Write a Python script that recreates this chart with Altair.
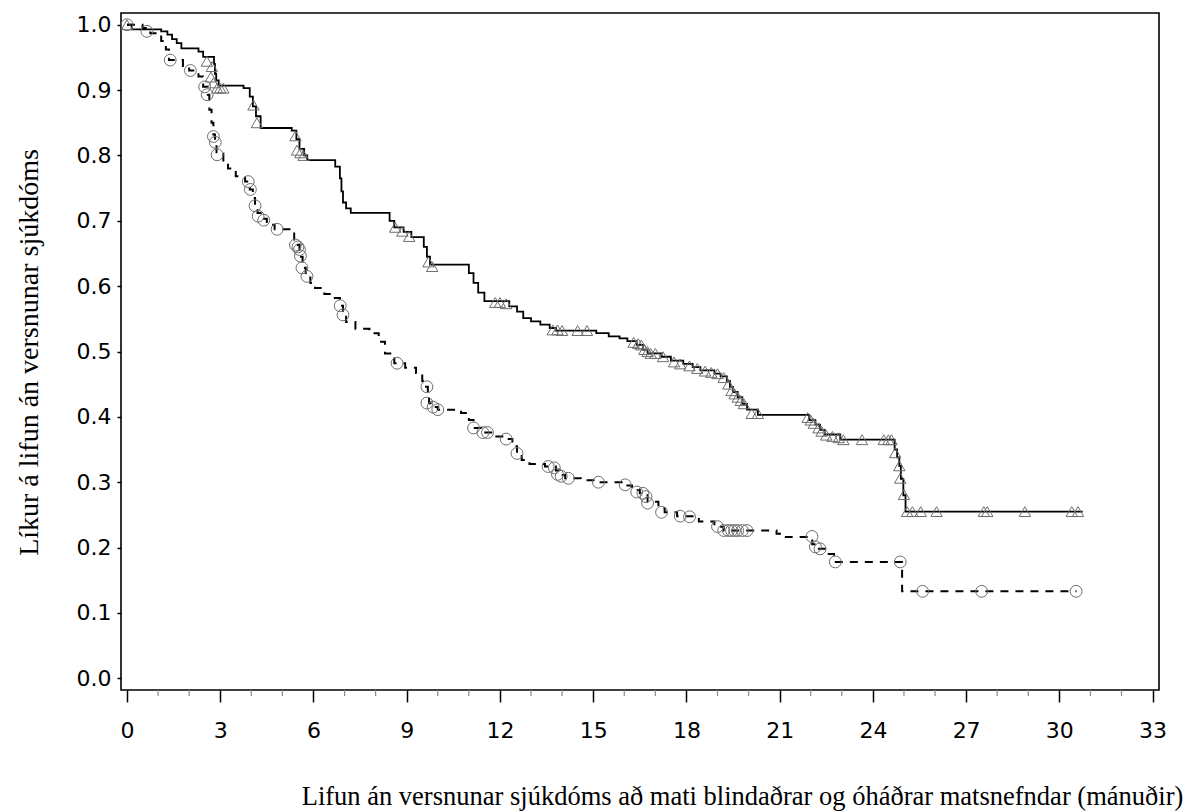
import altair as alt
import pandas as pd

# ---------------- data ----------------
# Solid curve (Kaplan-Meier, step after): event times and survival after step
solid_time = [0.0, 0.15, 1.1, 1.3, 1.45, 1.6, 1.75, 2.3, 2.45, 2.8, 2.83, 2.87, 2.95,
              3.75, 3.95, 4.05, 4.15, 4.3, 5.3, 5.45, 5.55, 5.7, 5.8, 6.7, 6.85, 6.9,
              6.95, 7.05, 7.2, 8.45, 8.6, 8.9, 9.15, 9.55, 9.65, 9.75, 11.0, 11.15, 11.3,
              11.5, 12.3, 12.55, 12.75, 13.0, 13.3, 13.6, 13.8, 15.1, 15.5, 15.85, 16.1,
              16.4, 16.6, 16.75, 17.2, 17.5, 17.9, 18.2, 18.45, 18.9, 19.1, 19.3, 19.4,
              19.5, 19.65, 19.8, 19.95, 20.3, 21.95, 22.15, 22.3, 22.45, 22.95, 24.7,
              24.78, 24.85, 24.9, 24.98, 25.05, 30.75]
solid_surv = [1.0, 0.993, 0.99, 0.985, 0.978, 0.972, 0.964, 0.959, 0.951, 0.94, 0.925,
              0.915, 0.907, 0.903, 0.89, 0.875, 0.86, 0.842, 0.838, 0.825, 0.81, 0.8,
              0.793, 0.783, 0.765, 0.745, 0.728, 0.719, 0.712, 0.7, 0.69, 0.683, 0.675,
              0.66, 0.645, 0.633, 0.62, 0.605, 0.59, 0.577, 0.569, 0.561, 0.551, 0.546,
              0.541, 0.536, 0.532, 0.528, 0.523, 0.52, 0.516, 0.51, 0.503, 0.497, 0.492,
              0.486, 0.481, 0.476, 0.471, 0.466, 0.462, 0.455, 0.446, 0.438, 0.43, 0.42,
              0.411, 0.403, 0.395, 0.388, 0.38, 0.373, 0.365, 0.35, 0.338, 0.325, 0.305,
              0.28, 0.255, 0.255]
# Solid curve censoring marks (triangles)
solid_cens_time = [0.0, 2.57, 2.73, 2.7, 2.78, 2.9, 3.0, 3.1, 4.07, 4.18, 5.42, 5.47,
                   5.58, 5.68, 8.63, 8.86, 9.08, 9.7, 9.82, 11.85, 12.0, 12.2, 13.7, 13.85,
                   14.0, 14.5, 14.8, 16.3, 16.45, 16.55, 16.65, 16.75, 16.85, 17.0, 17.25,
                   17.6, 17.8, 18.1, 18.35, 18.6, 18.8, 19.0, 19.2, 19.35, 19.45, 19.55,
                   19.65, 19.75, 19.85, 20.1, 20.3, 21.9, 22.0, 22.1, 22.25, 22.35, 22.5,
                   22.7, 22.9, 23.05, 23.65, 24.35, 24.5, 24.6, 24.72, 24.85, 24.88, 25.0,
                   25.1, 25.27, 25.54, 26.05, 27.57, 27.68, 28.89, 30.4, 30.6]
solid_cens_surv = [1.0, 0.944, 0.936, 0.92, 0.911, 0.903, 0.903, 0.903, 0.877, 0.85,
                   0.83, 0.808, 0.804, 0.8, 0.69, 0.684, 0.676, 0.637, 0.63, 0.575, 0.575,
                   0.573, 0.533, 0.533, 0.532, 0.532, 0.532, 0.514, 0.512, 0.51, 0.503,
                   0.5, 0.497, 0.497, 0.492, 0.484, 0.481, 0.478, 0.474, 0.47, 0.468,
                   0.466, 0.46, 0.45, 0.44, 0.435, 0.43, 0.425, 0.42, 0.405, 0.405, 0.399,
                   0.395, 0.39, 0.383, 0.378, 0.372, 0.37, 0.368, 0.365, 0.365, 0.365,
                   0.365, 0.365, 0.345, 0.325, 0.306, 0.281, 0.255, 0.255, 0.255, 0.255,
                   0.255, 0.255, 0.255, 0.255, 0.255]

# Dashed curve
dashed_time = [0.0, 0.5, 0.75, 1.1, 1.25, 1.35, 1.8, 2.0, 2.3, 2.45, 2.6, 2.65, 2.72,
               2.78, 2.83, 2.88, 3.1, 3.25, 3.5, 3.8, 3.95, 4.05, 4.12, 4.2, 4.3, 4.5,
               4.75, 5.38, 5.55, 5.6, 5.65, 5.75, 5.9, 6.05, 6.35, 6.65, 6.85, 6.95, 7.05,
               7.35, 7.8, 8.1, 8.3, 8.6, 8.95, 9.3, 9.5, 9.62, 9.68, 9.72, 9.85, 10.0,
               10.75, 11.0, 11.15, 11.4, 11.8, 12.2, 12.4, 12.55, 12.7, 12.95, 13.45,
               13.8, 13.9, 14.1, 14.6, 15.1, 16.1, 16.25, 16.5, 16.75, 17.1, 17.3, 17.7,
               18.4, 18.9, 19.2, 20.9, 21.2, 22.05, 22.2, 22.5, 22.75, 24.94, 30.55]
dashed_surv = [1.0, 0.995, 0.987, 0.975, 0.962, 0.946, 0.937, 0.93, 0.921, 0.905, 0.893,
               0.87, 0.85, 0.832, 0.82, 0.803, 0.79, 0.78, 0.768, 0.76, 0.748, 0.735,
               0.723, 0.712, 0.703, 0.694, 0.687, 0.663, 0.655, 0.645, 0.628, 0.615,
               0.605, 0.597, 0.588, 0.582, 0.57, 0.557, 0.545, 0.535, 0.528, 0.515,
               0.497, 0.482, 0.475, 0.467, 0.455, 0.446, 0.432, 0.421, 0.415, 0.411,
               0.406, 0.395, 0.383, 0.376, 0.37, 0.366, 0.355, 0.344, 0.334, 0.328,
               0.324, 0.318, 0.311, 0.306, 0.303, 0.3, 0.295, 0.288, 0.283, 0.27, 0.26,
               0.254, 0.248, 0.24, 0.232, 0.226, 0.221, 0.216, 0.205, 0.198, 0.19, 0.178,
               0.133, 0.133]
# Dashed curve censoring marks (circles)
dashed_cens_time = [0.0, 0.64, 1.39, 2.04, 2.5, 2.58, 2.78, 2.84, 2.9, 3.9, 3.97, 4.12,
                    4.22, 4.4, 4.83, 5.42, 5.5, 5.55, 5.58, 5.63, 5.79, 6.86, 6.95, 8.69,
                    9.65, 9.65, 9.85, 10.0, 11.15, 11.45, 11.6, 12.2, 12.55, 13.55, 13.75,
                    13.85, 13.97, 14.2, 15.17, 16.03, 16.4, 16.6, 16.7, 16.75, 17.2, 17.8,
                    18.1, 19.0, 19.2, 19.35, 19.45, 19.55, 19.65, 19.8, 19.95, 22.04, 22.15,
                    22.3, 22.79, 24.88, 25.6, 27.5, 30.54]
dashed_cens_surv = [1.0, 0.99, 0.946, 0.93, 0.905, 0.893, 0.829, 0.82, 0.801, 0.76,
                    0.748, 0.723, 0.707, 0.701, 0.687, 0.663, 0.66, 0.656, 0.646, 0.628,
                    0.615, 0.57, 0.556, 0.482, 0.446, 0.421, 0.415, 0.411, 0.383, 0.376,
                    0.376, 0.366, 0.344, 0.324, 0.322, 0.312, 0.309, 0.306, 0.3, 0.296,
                    0.285, 0.283, 0.278, 0.268, 0.254, 0.248, 0.247, 0.232, 0.226, 0.226,
                    0.226, 0.226, 0.226, 0.226, 0.226, 0.217, 0.201, 0.198, 0.178, 0.178,
                    0.133, 0.133, 0.133]

x_ticks = [0, 3, 6, 9, 12, 15, 18, 21, 24, 27, 30, 33]
x_minor_ticks = [1, 2, 4, 5, 7, 8, 10, 11, 13, 14, 16, 17, 19, 20, 22, 23, 25, 26, 28, 29, 31, 32]
y_ticks = [0.0, 0.1, 0.2, 0.3, 0.4, 0.5, 0.6, 0.7, 0.8, 0.9, 1.0]

x_title = "Lifun án versnunar sjúkdóms að mati blindaðrar og óháðrar matsnefndar (mánuðir)"
y_title = "Líkur á lifun án versnunar sjúkdóms"

# ---------------- chart ----------------
W, H = 1038, 677
xs = alt.Scale(domain=[-0.193, 33.206], nice=False, zero=False)
ys = alt.Scale(domain=[-0.018, 1.018], nice=False, zero=False)

solid_df = pd.DataFrame({"t": solid_time, "s": solid_surv})
dashed_df = pd.DataFrame({"t": dashed_time, "s": dashed_surv})
tri_df = pd.DataFrame({"t": solid_cens_time, "s": solid_cens_surv})
circ_df = pd.DataFrame({"t": dashed_cens_time, "s": dashed_cens_surv})
minor_df = pd.DataFrame({"t": x_minor_ticks})

x_axis = alt.Axis(
    values=x_ticks, format="d", title=x_title, grid=False, domain=False,
    tickSize=12, tickWidth=1.5, tickColor="black",
    labelFont="DejaVu Sans", labelFontSize=22, labelColor="black", labelPadding=18,
    labelFlush=False,
    titleFont="Liberation Serif", titleFontSize=26.5, titleFontWeight="normal",
    titleColor="black", titleX=621, titleY=106, titleBaseline="middle",
    titleAlign="center",
)
y_axis = alt.Axis(
    values=y_ticks, format=".1f", title=y_title, grid=False, domain=False,
    tickSize=4, tickWidth=1.5, tickColor="black",
    labelFont="DejaVu Sans", labelFontSize=22, labelColor="black", labelPadding=6,
    labelFlush=False,
    titleFont="Liberation Serif", titleFontSize=28, titleFontWeight="normal",
    titleColor="black", titleX=-92, titleY=339, titleAngle=270,
    titleBaseline="middle", titleAlign="center",
)

X = alt.X("t:Q", scale=xs, axis=x_axis)
Y = alt.Y("s:Q", scale=ys, axis=y_axis)

line_solid = alt.Chart(solid_df).mark_line(
    interpolate="step-after", color="black", strokeWidth=1.8
).encode(x=X, y=Y)

line_dashed = alt.Chart(dashed_df).mark_line(
    interpolate="step-after", color="black", strokeWidth=2, strokeDash=[8, 7]
).encode(x=X, y=Y)

tri = alt.Chart(tri_df).mark_point(
    shape="triangle-up", size=130, filled=False, color="#6e6e6e", strokeWidth=1,
    opacity=1
).encode(x=X, y=Y)

circ = alt.Chart(circ_df).mark_point(
    shape="circle", size=140, filled=False, color="#6e6e6e", strokeWidth=1,
    opacity=1
).encode(x=X, y=Y)

minor = alt.Chart(minor_df).mark_rule(color="#8a8a8a", strokeWidth=1.2).encode(
    x=X,
    y=alt.value(H),
    y2=alt.value(H + 6),
)

chart = alt.layer(line_solid, line_dashed, tri, circ, minor).properties(
    width=W, height=H,
    autosize=alt.AutoSizeParams(type="none"),
    padding={"left": 121, "top": 13, "right": 32, "bottom": 121},
    background="white",
).configure_view(
    stroke="black", strokeWidth=1.6
)

chart.save("out.html", embed_options={"renderer": "svg", "actions": False})
